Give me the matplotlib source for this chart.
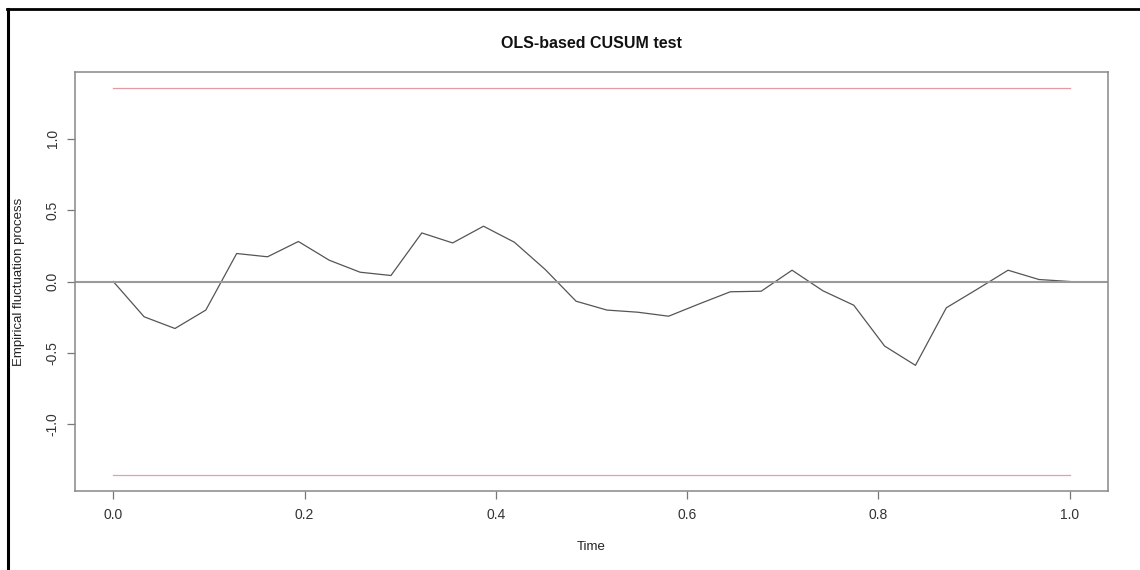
import matplotlib
matplotlib.use("Agg")
import matplotlib.pyplot as plt
from matplotlib.lines import Line2D
import numpy as np

plt.rcParams['font.family'] = ['Liberation Sans', 'DejaVu Sans']

# empirical fluctuation process (OLS-CUSUM)
process = [0.00, -0.247, -0.329, -0.20, 0.196, 0.173, 0.28, 0.149, 0.065, 0.042,
           0.34, 0.27, 0.387, 0.275, 0.084, -0.138, -0.20, -0.215, -0.243, -0.156,
           -0.072, -0.068, 0.079, -0.065, -0.166, -0.452, -0.587, -0.184, -0.054,
           0.079, 0.014, 0.0]
time = np.arange(len(process)) / (len(process) - 1)
boundary = 1.358
xticks = [0.0, 0.2, 0.4, 0.6, 0.8, 1.0]
yticks = [-1.0, -0.5, 0.0, 0.5, 1.0]

fig = plt.figure(figsize=(11.4, 5.7), dpi=100)
ax = fig.add_axes([75 / 1140, 1 - 491 / 570, (1108 - 75) / 1140, (491 - 72) / 570])

ax.plot(time, process, color='#555555', lw=0.9)
ax.axhline(0, color='#9a9a9a', lw=1.5)
ax.plot([time[0], time[-1]], [boundary, boundary], color='#e39aa3', lw=0.9)
ax.plot([time[0], time[-1]], [-boundary, -boundary], color='#e0a0a8', lw=0.9)

ax.set_xlim(-0.04, 1.04)
ax.set_ylim(-boundary * 1.08, boundary * 1.08)
ax.set_xticks(xticks)
ax.set_xticklabels(['%.1f' % v for v in xticks])
ax.set_yticks(yticks)
ax.set_yticklabels(['%.1f' % v for v in yticks], rotation=90, va='center')
ax.tick_params(length=6, width=0.9, color='#777777', labelsize=10,
               labelcolor='#333333')
ax.tick_params(axis='x', pad=6)
ax.tick_params(axis='y', pad=5)

for s in ax.spines.values():
    s.set_color('#888888')
    s.set_linewidth(1.1)

ax.set_title('OLS-based CUSUM test', fontsize=11.5, fontweight='bold', pad=17,
             color='#111111')
ax.set_xlabel('Time', fontsize=9.5, color='#222222', va='center')
ax.xaxis.set_label_coords(0.5, -(547 - 491) / 419)
ax.set_ylabel('Empirical fluctuation process', fontsize=9.5, color='#222222',
              va='center')
ax.yaxis.set_label_coords(-(75 - 19) / 1033, 0.5)

# scanned frame on top/left edges
fig.add_artist(Line2D([7 / 1140, 1], [1 - 9 / 570, 1 - 9 / 570],
                      transform=fig.transFigure, color='black', lw=2))
fig.add_artist(Line2D([7.5 / 1140, 7.5 / 1140], [0, 1 - 9 / 570],
                      transform=fig.transFigure, color='black', lw=2.2))

fig.savefig('out.png', dpi=100, facecolor='white')
